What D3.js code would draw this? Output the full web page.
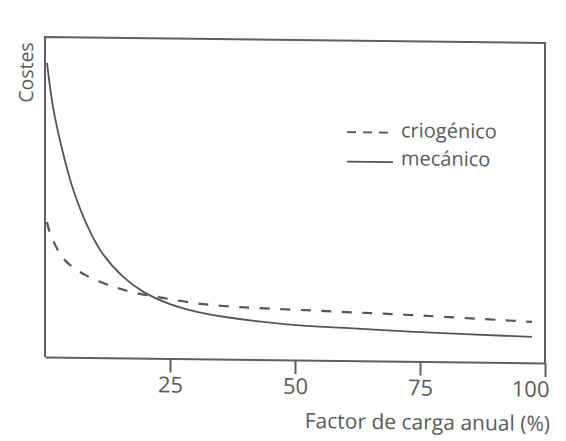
<!DOCTYPE html>
<html>
<head>
<meta charset="utf-8">
<script src="https://cdn.jsdelivr.net/npm/d3@7"></script>
<style>
  html, body { margin: 0; padding: 0; background: #fff; }
  svg { display: block; }
  text { font-family: "Open Sans", "Noto Sans", sans-serif; fill: #5a5a5a; }
</style>
</head>
<body>
<svg id="chart" width="566" height="441"></svg>
<script>
// Annual load factor (%) and relative cost for each refrigeration technology
const xMecanico = [0.4, 1.6, 3.6, 5.6, 8.4, 11.4, 15.6, 19.6, 25, 30.4, 36.4, 48.4, 61.6, 73, 97.4];
const yMecanico = [91.9, 78.2, 63.8, 52.6, 41.4, 32.8, 25.4, 20.8, 17.0, 14.7, 13.1, 11.1, 10.1, 9.3, 8.1];

const xCriogenico = [0.4, 1.0, 3.6, 7.0, 11, 15, 19, 23.6, 29, 35.6, 54, 73, 97.4];
const yCriogenico = [42.2, 38.8, 31.0, 26.7, 23.7, 21.6, 20.1, 18.9, 17.6, 16.6, 15.5, 14.5, 12.8];

const xTicks = [25, 50, 75, 100];
const xTickLabels = ["25", "50", "75", "100"];

const seriesNames = ["criogénico", "mecánico"];
const xTitle = "Factor de carga anual (%)";
const yTitle = "Costes";

const margin = { left: 45, top: 37, right: 545, bottom: 357 };
const ink = "#5f5f5f";

const svg = d3.select("#chart");

// slight tilt of the whole drawing, anchored on the left edge of the frame
const skew = Math.atan(0.012) * 180 / Math.PI;
const g = svg.append("g")
  .attr("transform", `translate(${margin.left},0) skewY(${skew}) translate(${-margin.left},0)`);

const x = d3.scaleLinear().domain([0, 100]).range([margin.left, margin.right]);
const y = d3.scaleLinear().domain([0, 100]).range([margin.bottom, margin.top]);

// frame: left, top and right sides
g.append("path")
  .attr("d", `M${x(0)},${y(0)} L${x(0)},${y(100)} L${x(100)},${y(100)} L${x(100)},${y(0)}`)
  .attr("fill", "none").attr("stroke", ink).attr("stroke-width", 2);

// bottom axis with downward ticks
const xAxis = d3.axisBottom(x)
  .tickValues(xTicks)
  .tickSize(14)
  .tickSizeOuter(0)
  .tickFormat((d, i) => xTickLabels[i]);

const axisG = g.append("g")
  .attr("transform", `translate(0,${y(0)})`)
  .call(xAxis);
axisG.select(".domain").attr("stroke", ink).attr("stroke-width", 2);
axisG.selectAll(".tick line").attr("stroke", ink).attr("stroke-width", 2);
axisG.selectAll(".tick text")
  .attr("y", 34)
  .attr("dy", 0)
  .style("font-size", "22px")
  .attr("fill", "#5a5a5a")
  .style("font-family", "'Open Sans', sans-serif")
  .attr("text-anchor", d => d === 100 ? "end" : "middle")
  .attr("dx", d => d === 100 ? 4 : 0);

// axis titles
g.append("text")
  .attr("x", 550).attr("y", 425)
  .attr("text-anchor", "end")
  .style("font-size", "21px")
  .text(xTitle);

g.append("text")
  .attr("transform", "translate(33,103) rotate(-90)")
  .attr("text-anchor", "start")
  .style("font-size", "19.5px")
  .text(yTitle);

// curves
const line = d3.line()
  .x(d => x(d[0]))
  .y(d => y(d[1]))
  .curve(d3.curveCatmullRom.alpha(0.5));

const mecanico = xMecanico.map((v, i) => [v, yMecanico[i]]);
const criogenico = xCriogenico.map((v, i) => [v, yCriogenico[i]]);

g.append("path")
  .datum(criogenico)
  .attr("d", line)
  .attr("fill", "none")
  .attr("stroke", "#555")
  .attr("stroke-width", 2.2)
  .attr("stroke-dasharray", "10,10.5");

g.append("path")
  .datum(mecanico)
  .attr("d", line)
  .attr("fill", "none")
  .attr("stroke", "#555")
  .attr("stroke-width", 1.8);

// legend
const legend = g.append("g");
const legendRows = [
  { name: seriesNames[0], dash: "9,7", ly: 128.5, ty: 133 },
  { name: seriesNames[1], dash: null, ly: 158, ty: 161 }
];
legendRows.forEach(r => {
  legend.append("line")
    .attr("x1", 347).attr("x2", 393)
    .attr("y1", r.ly).attr("y2", r.ly)
    .attr("stroke", "#555")
    .attr("stroke-width", 1.8)
    .attr("stroke-dasharray", r.dash);
  legend.append("text")
    .attr("x", 401).attr("y", r.ty)
    .style("font-size", "20px")
    .text(r.name);
});
</script>
</body>
</html>
